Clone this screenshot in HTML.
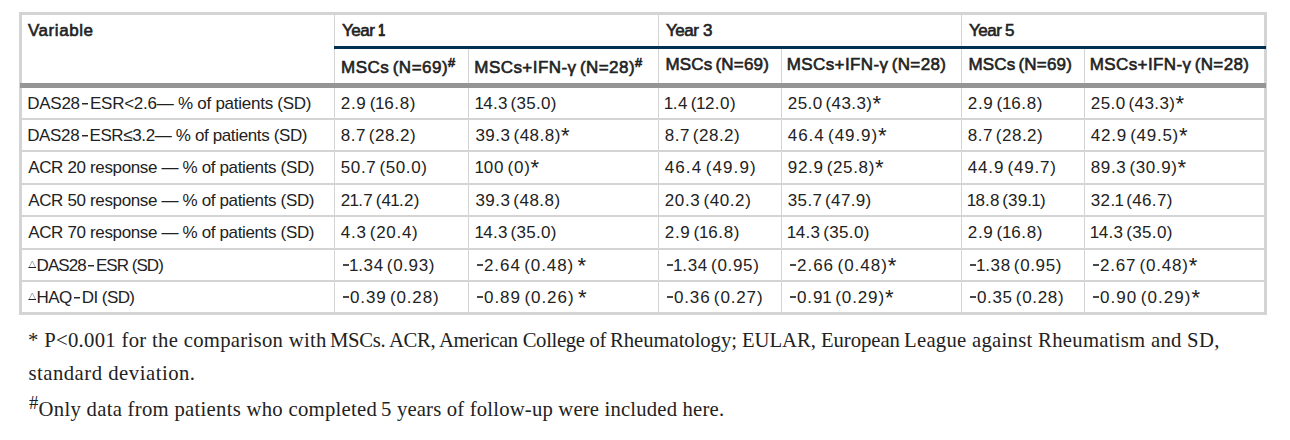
<!DOCTYPE html>
<html><head><meta charset="utf-8"><style>
html,body{margin:0;padding:0;background:#fff;}
body{width:1290px;height:440px;position:relative;overflow:hidden;}
.b{position:absolute;}
.b svg{display:block;}
.t{position:absolute;white-space:nowrap;font-family:"Liberation Sans", sans-serif;font-size:17px;line-height:20px;color:#222;}
.h{font-weight:400;-webkit-text-stroke:0.6px #222;}
.o{margin:0 -0.9px 0 -1.0px;}
.n{display:inline-block;transform:scaleX(0.72);transform-origin:0 0;font-weight:700;}
.a{font-size:1.3em;line-height:0;vertical-align:-0.09em;}
.t sup{font-size:0.75em;line-height:0;vertical-align:0.45em;}
.m{display:inline-block;width:6.8px;height:2px;background:#484848;vertical-align:5px;margin:0 0.6px;}
.mh{width:6px;height:1px;background:#282828;box-shadow:0 1px 0 #999;vertical-align:5px;margin:0 1.8px 0 2.4px;}
.f{position:absolute;white-space:nowrap;font-family:"Liberation Serif", serif;font-size:20.7px;line-height:26px;color:#222;}
.f sup{font-size:0.9em;line-height:0;vertical-align:0.4em;}
</style></head><body>
<div class="b" style="left:19px;top:12px;width:1248px;height:3px;background:#d4d4d4"></div>
<div class="b" style="left:19px;top:312px;width:1248px;height:3px;background:#d4d4d4"></div>
<div class="b" style="left:19px;top:12px;width:3px;height:303px;background:#d4d4d4"></div>
<div class="b" style="left:1264px;top:12px;width:3px;height:303px;background:#d4d4d4"></div>
<div class="b" style="left:334px;top:15px;width:1px;height:297px;background:#d4d4d4"></div>
<div class="b" style="left:658px;top:15px;width:1px;height:297px;background:#d4d4d4"></div>
<div class="b" style="left:961px;top:15px;width:1px;height:297px;background:#d4d4d4"></div>
<div class="b" style="left:468px;top:49px;width:1px;height:263px;background:#d4d4d4"></div>
<div class="b" style="left:781px;top:49px;width:1px;height:263px;background:#d4d4d4"></div>
<div class="b" style="left:1084px;top:49px;width:1px;height:263px;background:#d4d4d4"></div>
<div class="b" style="left:22px;top:118px;width:1242px;height:2px;background:#d4d4d4"></div>
<div class="b" style="left:22px;top:150px;width:1242px;height:2px;background:#d4d4d4"></div>
<div class="b" style="left:22px;top:183px;width:1242px;height:2px;background:#d4d4d4"></div>
<div class="b" style="left:22px;top:215px;width:1242px;height:2px;background:#d4d4d4"></div>
<div class="b" style="left:22px;top:248px;width:1242px;height:2px;background:#d4d4d4"></div>
<div class="b" style="left:22px;top:280px;width:1242px;height:2px;background:#d4d4d4"></div>
<div class="b" style="left:334px;top:46px;width:932px;height:3px;background:#003150"></div>
<div class="b" style="left:20px;top:83px;width:1246px;height:5px;background:#959595"></div>
<div class="b" style="left:28px;top:260px;width:8px;height:8px"><svg class="tri" width="9" height="8" viewBox="0 0 9 8"><path d="M1 7.5 L4.3 1 L7.6 7.5" fill="none" stroke="#9090a8" stroke-width="0.8"/><rect x="0.5" y="7" width="7.5" height="1" fill="#222"/></svg></div>
<div class="b" style="left:28px;top:292px;width:8px;height:8px"><svg class="tri" width="9" height="8" viewBox="0 0 9 8"><path d="M1 7.5 L4.3 1 L7.6 7.5" fill="none" stroke="#9090a8" stroke-width="0.8"/><rect x="0.5" y="7" width="7.5" height="1" fill="#222"/></svg></div>
<div class="t h g0" style="left:27.90px;top:21.11px;letter-spacing:0.577px">Variable</div>
<div class="t h g0" style="left:342.00px;top:21.11px;letter-spacing:-0.467px">Year</div>
<div class="t h g1" style="left:379.00px;top:21.11px;letter-spacing:0.000px"><b class=n><span class=o>1</span></b></div>
<div class="t h g0" style="left:666.00px;top:21.11px;letter-spacing:-0.467px">Year</div>
<div class="t h g1" style="left:703.00px;top:21.11px;letter-spacing:0.000px">3</div>
<div class="t h g0" style="left:969.00px;top:21.11px;letter-spacing:-0.467px">Year</div>
<div class="t h g1" style="left:1005.00px;top:21.11px;letter-spacing:0.000px">5</div>
<div class="t h g0" style="left:341.10px;top:58.11px;letter-spacing:0.486px;word-spacing:-1.8px">MSCs (N=69)<sup>#</sup></div>
<div class="t h g0" style="left:474.30px;top:58.11px;letter-spacing:0.446px;word-spacing:-1.8px">MSCs+IFN-γ (N=28)<sup>#</sup></div>
<div class="t h g0" style="left:665.40px;top:55.11px;letter-spacing:0.186px;word-spacing:-1.8px">MSCs (N=69)</div>
<div class="t h g0" style="left:786.80px;top:55.11px;letter-spacing:0.382px;word-spacing:-1.8px">MSCs+IFN-γ (N=28)</div>
<div class="t h g0" style="left:968.40px;top:55.11px;letter-spacing:0.186px;word-spacing:-1.8px">MSCs (N=69)</div>
<div class="t h g0" style="left:1089.80px;top:55.11px;letter-spacing:0.382px;word-spacing:-1.8px">MSCs+IFN-γ (N=28)</div>
<div class="t g0" style="left:27.20px;top:94.11px;letter-spacing:-0.255px">DAS28<span class='m mh'></span>ESR&lt;2.6— % of patients (SD)</div>
<div class="t g0" style="left:340.80px;top:94.11px;letter-spacing:0.671px;word-spacing:-2.2px">2.9 (<span class=o>1</span>6.8)</div>
<div class="t g0" style="left:475.40px;top:94.11px;letter-spacing:0.284px;word-spacing:-2.2px"><span class=o>1</span>4.3 (35.0)</div>
<div class="t g0" style="left:664.80px;top:94.11px;letter-spacing:0.437px;word-spacing:-2.2px"><span class=o>1</span>.4 (<span class=o>1</span>2.0)</div>
<div class="t g0" style="left:787.80px;top:94.11px;letter-spacing:0.422px;word-spacing:-2.2px">25.0 (43.3)<span class=a>*</span></div>
<div class="t g0" style="left:967.80px;top:94.11px;letter-spacing:0.657px;word-spacing:-2.2px">2.9 (<span class=o>1</span>6.8)</div>
<div class="t g0" style="left:1090.80px;top:94.11px;letter-spacing:0.422px;word-spacing:-2.2px">25.0 (43.3)<span class=a>*</span></div>
<div class="t g0" style="left:27.20px;top:126.11px;letter-spacing:-0.365px">DAS28<span class='m mh'></span>ESR≤3.2— % of patients (SD)</div>
<div class="t g0" style="left:340.80px;top:126.11px;letter-spacing:0.479px;word-spacing:-2.2px">8.7 (28.2)</div>
<div class="t g0" style="left:475.40px;top:126.11px;letter-spacing:0.496px;word-spacing:-2.2px">39.3 (48.8)<span class=a>*</span></div>
<div class="t g0" style="left:664.80px;top:126.11px;letter-spacing:0.479px;word-spacing:-2.2px">8.7 (28.2)</div>
<div class="t g0" style="left:787.80px;top:126.11px;letter-spacing:0.927px;word-spacing:-2.2px">46.4 (49.9)<span class=a>*</span></div>
<div class="t g0" style="left:967.80px;top:126.11px;letter-spacing:0.479px;word-spacing:-2.2px">8.7 (28.2)</div>
<div class="t g0" style="left:1090.80px;top:126.11px;letter-spacing:0.746px;word-spacing:-2.2px">42.9 (49.5)<span class=a>*</span></div>
<div class="t g0" style="left:28.20px;top:158.11px;letter-spacing:-0.351px">ACR 20 response — % of patients (SD)</div>
<div class="t g0" style="left:340.80px;top:158.11px;letter-spacing:0.610px;word-spacing:-2.2px">50.7 (50.0)</div>
<div class="t g0" style="left:475.40px;top:158.11px;letter-spacing:0.771px;word-spacing:-2.2px"><span class=o>1</span>00 (0)<span class=a>*</span></div>
<div class="t g0" style="left:664.80px;top:158.11px;letter-spacing:1.076px;word-spacing:-2.2px">46.4 (49.9)</div>
<div class="t g0" style="left:787.80px;top:158.11px;letter-spacing:0.650px;word-spacing:-2.2px">92.9 (25.8)<span class=a>*</span></div>
<div class="t g0" style="left:967.80px;top:158.11px;letter-spacing:0.818px;word-spacing:-2.2px">44.9 (49.7)</div>
<div class="t g0" style="left:1090.80px;top:158.11px;letter-spacing:0.604px;word-spacing:-2.2px">89.3 (30.9)<span class=a>*</span></div>
<div class="t g0" style="left:28.20px;top:191.11px;letter-spacing:-0.351px">ACR 50 response — % of patients (SD)</div>
<div class="t g0" style="left:340.80px;top:191.11px;letter-spacing:0.222px;word-spacing:-2.2px">2<span class=o>1</span>.7 (4<span class=o>1</span>.2)</div>
<div class="t g0" style="left:475.40px;top:191.11px;letter-spacing:0.468px;word-spacing:-2.2px">39.3 (48.8)</div>
<div class="t g0" style="left:664.80px;top:191.11px;letter-spacing:0.598px;word-spacing:-2.2px">20.3 (40.2)</div>
<div class="t g0" style="left:787.80px;top:191.11px;letter-spacing:0.340px;word-spacing:-2.2px">35.7 (47.9)</div>
<div class="t g0" style="left:967.80px;top:191.11px;letter-spacing:0.152px;word-spacing:-2.2px"><span class=o>1</span>8.8 (39.<span class=o>1</span>)</div>
<div class="t g0" style="left:1090.80px;top:191.11px;letter-spacing:0.346px;word-spacing:-2.2px">32.<span class=o>1</span> (46.7)</div>
<div class="t g0" style="left:28.20px;top:223.11px;letter-spacing:-0.351px">ACR 70 response — % of patients (SD)</div>
<div class="t g0" style="left:340.80px;top:223.11px;letter-spacing:0.710px;word-spacing:-2.2px">4.3 (20.4)</div>
<div class="t g0" style="left:475.40px;top:223.11px;letter-spacing:0.284px;word-spacing:-2.2px"><span class=o>1</span>4.3 (35.0)</div>
<div class="t g0" style="left:664.80px;top:223.11px;letter-spacing:0.657px;word-spacing:-2.2px">2.9 (<span class=o>1</span>6.8)</div>
<div class="t g0" style="left:787.80px;top:223.11px;letter-spacing:0.346px;word-spacing:-2.2px"><span class=o>1</span>4.3 (35.0)</div>
<div class="t g0" style="left:967.80px;top:223.11px;letter-spacing:0.657px;word-spacing:-2.2px">2.9 (<span class=o>1</span>6.8)</div>
<div class="t g0" style="left:1090.80px;top:223.11px;letter-spacing:0.346px;word-spacing:-2.2px"><span class=o>1</span>4.3 (35.0)</div>
<div class="t g0" style="left:36.60px;top:256.11px;letter-spacing:-0.953px">DAS28<span class='m mh'></span>ESR (SD)</div>
<div class="t g0" style="left:342.00px;top:256.11px;letter-spacing:0.632px;word-spacing:-2.2px"><span class=m></span><span class=o>1</span>.34 (0.93)</div>
<div class="t g0" style="left:476.00px;top:256.11px;letter-spacing:0.921px;word-spacing:-2.2px"><span class=m></span>2.64 (0.48) <span class=a>*</span></div>
<div class="t g0" style="left:666.00px;top:256.11px;letter-spacing:0.677px;word-spacing:-2.2px"><span class=m></span><span class=o>1</span>.34 (0.95)</div>
<div class="t g0" style="left:789.00px;top:256.11px;letter-spacing:0.983px;word-spacing:-2.2px"><span class=m></span>2.66 (0.48)<span class=a>*</span></div>
<div class="t g0" style="left:969.00px;top:256.11px;letter-spacing:0.632px;word-spacing:-2.2px"><span class=m></span><span class=o>1</span>.38 (0.95)</div>
<div class="t g0" style="left:1092.00px;top:256.11px;letter-spacing:0.794px;word-spacing:-2.2px"><span class=m></span>2.67 (0.48)<span class=a>*</span></div>
<div class="t g0" style="left:36.60px;top:288.11px;letter-spacing:-0.588px">HAQ<span class='m mh'></span>DI (SD)</div>
<div class="t g0" style="left:342.00px;top:288.11px;letter-spacing:0.864px;word-spacing:-2.2px"><span class=m></span>0.39 (0.28)</div>
<div class="t g0" style="left:476.00px;top:288.11px;letter-spacing:0.957px;word-spacing:-2.2px"><span class=m></span>0.89 (0.26) <span class=a>*</span></div>
<div class="t g0" style="left:666.00px;top:288.11px;letter-spacing:0.854px;word-spacing:-2.2px"><span class=m></span>0.36 (0.27)</div>
<div class="t g0" style="left:789.00px;top:288.11px;letter-spacing:0.900px;word-spacing:-2.2px"><span class=m></span>0.9<span class=o>1</span> (0.29)<span class=a>*</span></div>
<div class="t g0" style="left:969.00px;top:288.11px;letter-spacing:0.655px;word-spacing:-2.2px"><span class=m></span>0.35 (0.28)</div>
<div class="t g0" style="left:1092.00px;top:288.11px;letter-spacing:1.033px;word-spacing:-2.2px"><span class=m></span>0.90 (0.29)<span class=a>*</span></div>
<div class="f g0" style="left:28.00px;top:327.01px;letter-spacing:0.306px">* P&lt;0.001 for the comparison with</div>
<div class="f g1" style="left:330.00px;top:327.01px;letter-spacing:-0.338px">MSCs. ACR, American College of</div>
<div class="f g0" style="left:610.00px;top:327.01px;letter-spacing:-0.050px">Rheumatology; EULAR, European</div>
<div class="f g1" style="left:904.00px;top:327.01px;letter-spacing:0.284px">League against Rheumatism and SD,</div>
<div class="f g0" style="left:28.40px;top:360.01px;letter-spacing:0.513px">standard deviation.</div>
<div class="f g0" style="left:29.00px;top:396.01px;letter-spacing:0.284px"><sup>#</sup>Only data from patients who completed</div>
<div class="f g1" style="left:381.00px;top:396.01px;letter-spacing:0.180px">5 years of follow-up were included here.</div>
</body></html>
